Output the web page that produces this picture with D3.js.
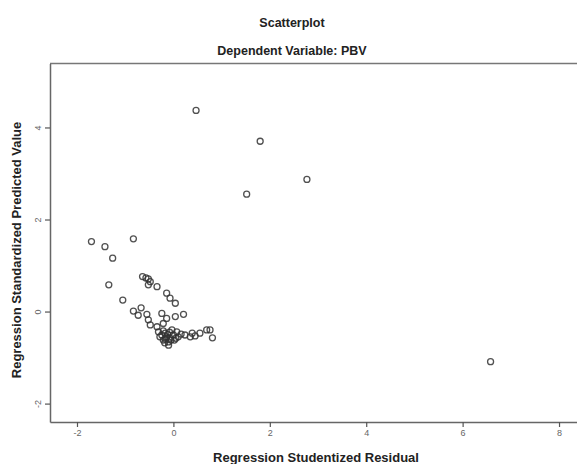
<!DOCTYPE html>
<html>
<head>
<meta charset="utf-8">
<script src="https://cdn.jsdelivr.net/npm/d3@7"></script>
<style>
  body { margin: 0; background: #fff; }
  svg { display: block; font-family: Arial, "Liberation Sans", sans-serif; }
</style>
</head>
<body>
<div id="my_dataviz"></div>
<script>
// chart data
const residual = [0.47, 1.80, 2.77, 1.52, 6.58,
    -1.70, -1.42, -0.83, -1.26, -1.34, -1.05,
    -0.64, -0.57, -0.52, -0.48, -0.52, -0.34, -0.14, -0.07, 0.04,
    -0.83, -0.67, -0.73, -0.55, -0.52, -0.48, -0.24, -0.14, 0.04, 0.21,
    -0.34, -0.31, -0.24, -0.17, -0.14, -0.28, -0.10, -0.10, 0.00, 0.07,
    0.10, 0.24, 0.35, 0.45, 0.55, 0.69, 0.76, 0.81, -0.03, -0.21,
    -0.21, -0.07, -0.21, 0.16, 0.39, -0.17, 0.02,
    -0.15, -0.12, -0.05, -0.18, 0.05, -0.08];
const predicted = [4.37, 3.70, 2.87, 2.55, -1.09,
    1.52, 1.41, 1.58, 1.16, 0.58, 0.25,
    0.76, 0.73, 0.71, 0.65, 0.58, 0.54, 0.40, 0.29, 0.18,
    0.01, 0.08, -0.08, -0.06, -0.18, -0.29, -0.04, -0.15, -0.11, -0.06,
    -0.33, -0.44, -0.51, -0.47, -0.55, -0.55, -0.66, -0.73, -0.51, -0.44,
    -0.55, -0.51, -0.55, -0.53, -0.47, -0.40, -0.40, -0.57, -0.40, -0.26,
    -0.62, -0.58, -0.42, -0.49, -0.47, -0.60, -0.62,
    -0.58, -0.50, -0.62, -0.68, -0.58, -0.45];
const xTicks = [-2, 0, 2, 4, 6, 8];
const yTicks = [-2, 0, 2, 4];
const chartTitle = "Scatterplot";
const chartSubtitle = "Dependent Variable: PBV";
const xTitle = "Regression Studentized Residual";
const yTitle = "Regression Standardized Predicted Value";

const W = 577, H = 464;
// plot frame runs past the right edge of the picture
const margin = {top: 63.5, left: 50, bottom: 42},
    plotRight = 600;

const svg = d3.select("#my_dataviz")
    .append("svg")
    .attr("width", W)
    .attr("height", H);

const x = d3.scaleLinear()
    .domain([-2.56, 8.85])
    .range([margin.left, plotRight]);
const y = d3.scaleLinear()
    .domain([-2.40, 5.39])
    .range([H - margin.bottom, margin.top]);

// titles
svg.append("text")
    .attr("x", 292).attr("y", 27)
    .attr("text-anchor", "middle")
    .attr("font-size", 12.5).attr("font-weight", "bold")
    .attr("fill", "#222")
    .text(chartTitle);
svg.append("text")
    .attr("x", 292).attr("y", 55)
    .attr("text-anchor", "middle")
    .attr("font-size", 12.5).attr("font-weight", "bold")
    .attr("fill", "#222")
    .text(chartSubtitle);

// frame: top line
svg.append("line")
    .attr("x1", margin.left).attr("x2", plotRight)
    .attr("y1", margin.top).attr("y2", margin.top)
    .attr("stroke", "#777").attr("stroke-width", 1.5);

// x axis (plain hyphen for negatives, like the original)
const xAxis = svg.append("g")
    .attr("transform", `translate(0, ${H - margin.bottom})`)
    .call(d3.axisBottom(x).tickValues(xTicks).tickFormat(String)
        .tickSize(5).tickSizeOuter(0));
// y axis
const yAxis = svg.append("g")
    .attr("transform", `translate(${margin.left}, 0)`)
    .call(d3.axisLeft(y).tickValues(yTicks).tickFormat(String)
        .tickSize(5).tickSizeOuter(0));

[xAxis, yAxis].forEach(function (g) {
    g.select(".domain").attr("stroke", "#666").attr("stroke-width", 1.5);
    g.selectAll(".tick line").attr("stroke", "#555").attr("stroke-width", 1.2);
    g.selectAll(".tick text")
        .attr("fill", "#666")
        .attr("font-size", 9)
        .attr("font-family", "Arial, 'Liberation Sans', sans-serif");
});
xAxis.selectAll(".tick text").attr("dy", "0.9em").attr("y", 6);
yAxis.selectAll(".tick text")
    .attr("x", null).attr("dy", null)
    .attr("text-anchor", "middle")
    .attr("transform", "translate(-9,0) rotate(-90)");

// axis titles
svg.append("text")
    .attr("x", 316).attr("y", 462)
    .attr("text-anchor", "middle")
    .attr("font-size", 13).attr("font-weight", "bold")
    .attr("fill", "#222")
    .text(xTitle);
svg.append("text")
    .attr("transform", "translate(21, 250) rotate(-90)")
    .attr("text-anchor", "middle")
    .attr("font-size", 13).attr("font-weight", "bold")
    .attr("fill", "#222")
    .text(yTitle);

// points
svg.append("g")
    .selectAll("circle")
    .data(d3.zip(residual, predicted))
    .join("circle")
    .attr("cx", function (d) { return x(d[0]); })
    .attr("cy", function (d) { return y(d[1]); })
    .attr("r", 3)
    .attr("fill", "none")
    .attr("stroke", "#333")
    .attr("stroke-width", 1.3)
    .attr("stroke-opacity", 0.85);
</script>
</body>
</html>
